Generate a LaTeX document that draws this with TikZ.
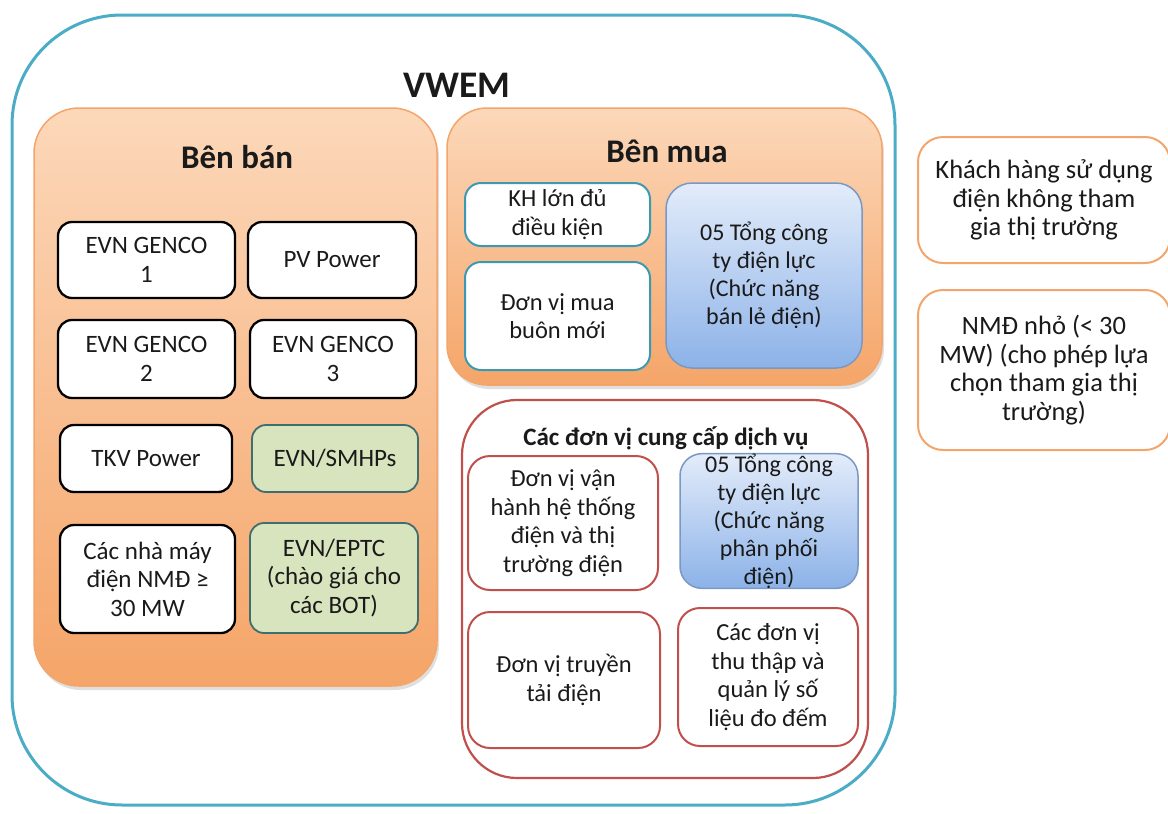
\documentclass[tikz,border=0pt]{standalone}
\usepackage{fontspec}
\setmainfont{Carlito}
\usetikzlibrary{shadows}
\definecolor{teal1}{HTML}{4BACC6}
\definecolor{teal2}{HTML}{3B9AB2}
\definecolor{orgB}{HTML}{F5A568}
\definecolor{orgT}{HTML}{FCD8BA}
\definecolor{orgL}{HTML}{F3A56B}
\definecolor{redB}{HTML}{C0504D}
\definecolor{bluT}{HTML}{E3ECFA}
\definecolor{bluB}{HTML}{8CB2E8}
\definecolor{bluL}{HTML}{7A98C4}
\definecolor{grnF}{HTML}{D7E4BD}
\definecolor{grnL}{HTML}{3F6E6E}
\definecolor{txt}{HTML}{1A1A1A}
\tikzset{
  every node/.style={text=txt, align=center, inner sep=0pt},
  bodyfont/.style={font=\fontsize{25}{28.5}\selectfont},
  outerbox/.style={draw=teal1, line width=3pt, rounded corners=110pt, fill=white},
  panel/.style={draw=orgL, line width=1.5pt, rounded corners=45pt, top color=orgT, bottom color=orgB,
     drop shadow={shadow xshift=2pt, shadow yshift=-4pt, opacity=0.25}},
  svcpanel/.style={draw=redB, line width=2.2pt, rounded corners=55pt, fill=white},
  blackbox/.style={bodyfont, draw=black, line width=2.3pt, rounded corners=14pt, fill=white},
  greenbox/.style={bodyfont, draw=grnL, line width=1.8pt, rounded corners=14pt, fill=grnF},
  tealbox/.style={font=\fontsize{24.5}{28.5}\selectfont, draw=teal2, line width=2pt, rounded corners=16pt, fill=white},
  bluebox/.style={font=\fontsize{24}{28}\selectfont, draw=bluL, line width=1.5pt, rounded corners=26pt, top color=bluT, bottom color=bluB},
  redbox/.style={font=\fontsize{24.5}{28.5}\selectfont, draw=redB, line width=2pt, rounded corners=22pt, fill=white},
  sidebox/.style={font=\fontsize{26.5}{28.5}\selectfont, draw=orgL, line width=2pt, rounded corners=25pt, fill=white},
  titlefont/.style={font=\fontsize{33}{38}\selectfont\bfseries},
}
\newcommand{\bx}[6]{\node[#1, minimum width=#4pt, minimum height=#5pt] (#2) at (#3) {#6};}
\begin{document}
\begin{tikzpicture}[x=1pt, y=-1pt]
\useasboundingbox (0,0) rectangle (1168,814);
% outer VWEM
\bx{outerbox}{vwem}{453.5,410}{883}{790}{}
\node[font=\fontsize{37.5}{42}\selectfont\bfseries] (vwemt) at (457,85) {VWEM};
% Ben ban
\bx{panel}{benban}{235.5,397}{403}{578}{}
\node[titlefont] (benbant) at (237,157) {Bên bán};
\bx{blackbox}{g1}{146.5,260}{177}{76}{EVN GENCO\\1}
\bx{blackbox}{pv}{332,260}{168}{76}{PV Power}
\bx{blackbox}{g2}{146.5,359}{177}{78}{EVN GENCO\\2}
\bx{blackbox}{g3}{333,359}{166}{78}{EVN GENCO\\3}
\bx{blackbox}{tkv}{146,458.5}{172}{67}{TKV Power}
\bx{greenbox}{smhp}{335,458.5}{166}{67}{EVN/SMHPs}
\bx{blackbox}{nmd}{147.5,579}{175}{108}{Các nhà máy\\điện NMĐ ≥\\30 MW}
\bx{greenbox}{eptc}{334,578}{168}{110}{EVN/EPTC\\(chào giá cho\\các BOT)}
% Ben mua
\bx{panel, rounded corners=40pt}{benmua}{664.5,246.5}{435}{277}{}
\node[titlefont] (benmuat) at (667,151) {Bên mua};
\bx{tealbox}{kh}{557.5,214.5}{185}{63}{KH lớn đủ\\điều kiện}
\bx{tealbox}{dvm}{557.5,316}{185}{108}{Đơn vị mua\\buôn mới}
\bx{bluebox}{tct1}{764,275.5}{196}{185}{05 Tổng công\\ty điện lực\\(Chức năng\\bán lẻ điện)}
% Service providers
\bx{svcpanel}{dichvu}{665,589}{406}{378}{}
\node[font=\fontsize{25}{29}\selectfont\bfseries] (dichvut) at (666,438) {Các đơn vị cung cấp dịch vụ};
\bx{redbox}{vh}{563,523}{190}{134}{Đơn vị vận\\hành hệ thống\\điện và thị\\trường điện}
\bx{bluebox, rounded corners=22pt}{tct2}{769,521}{178}{132}{05 Tổng công\\ty điện lực\\(Chức năng\\phân phối\\điện)}
\bx{redbox}{tt}{564,680}{192}{136}{Đơn vị truyền\\tải điện}
\bx{redbox}{tq}{768,677}{180}{138}{Các đơn vị\\thu thập và\\quản lý số\\liệu đo đếm}
% Side boxes
\bx{sidebox}{khach}{1044,200}{252}{126}{Khách hàng sử dụng\\điện không tham\\gia thị trường}
\bx{sidebox}{nmdn}{1044,370}{252}{160}{NMĐ nhỏ (< 30\\MW) (cho phép lựa\\chọn tham gia thị\\trường)}
\end{tikzpicture}
\end{document}
